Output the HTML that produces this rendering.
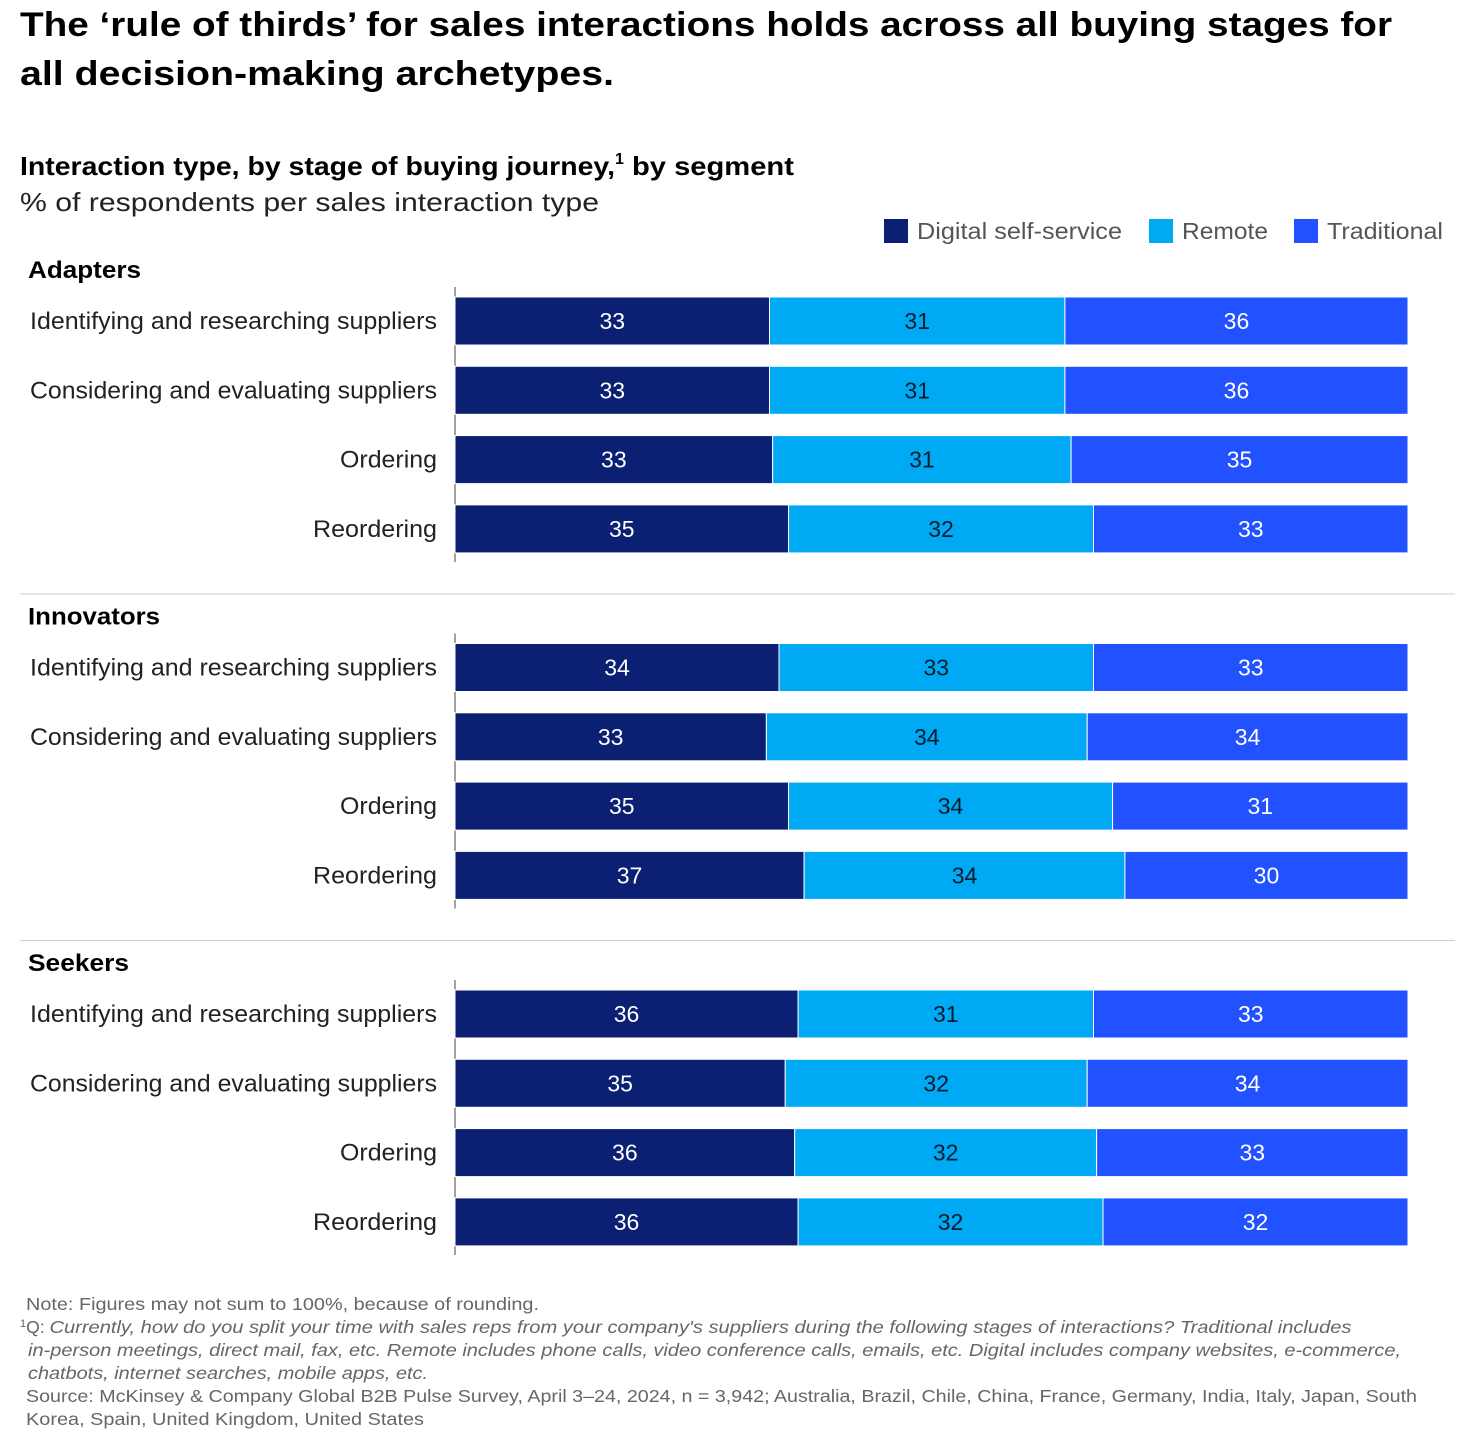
<!DOCTYPE html>
<html><head><meta charset="utf-8"><style>
body{margin:0;background:#fff;width:1464px;height:1438px;overflow:hidden;font-family:"Liberation Sans",sans-serif;}
</style></head><body>
<svg id="chart" width="1464" height="1438" xmlns="http://www.w3.org/2000/svg" font-family="Liberation Sans, sans-serif">
<text x="20" y="36" font-size="34" font-weight="bold" fill="#000" textLength="1372" lengthAdjust="spacingAndGlyphs">The ‘rule of thirds’ for sales interactions holds across all buying stages for</text>
<text x="20" y="85" font-size="34" font-weight="bold" fill="#000" textLength="594" lengthAdjust="spacingAndGlyphs">all decision-making archetypes.</text>
<text x="20" y="175" font-size="26" font-weight="bold" fill="#000"><tspan textLength="595" lengthAdjust="spacingAndGlyphs">Interaction type, by stage of buying journey,</tspan><tspan font-size="16" dy="-11">1</tspan><tspan dy="11" textLength="170" lengthAdjust="spacingAndGlyphs"> by segment</tspan></text>
<text x="20" y="211" font-size="26" fill="#222" textLength="579" lengthAdjust="spacingAndGlyphs">% of respondents per sales interaction type</text>
<g>
<rect x="884" y="219" width="24" height="24" fill="#0b1f73"/>
<text x="917" y="239" font-size="23" fill="#555" textLength="205" lengthAdjust="spacingAndGlyphs">Digital self-service</text>
<rect x="1149" y="219" width="24" height="24" fill="#00a9f4"/>
<text x="1182" y="239" font-size="23" fill="#555" textLength="86" lengthAdjust="spacingAndGlyphs">Remote</text>
<rect x="1294" y="219" width="24" height="24" fill="#2251ff"/>
<text x="1327" y="239" font-size="23" fill="#555" textLength="116" lengthAdjust="spacingAndGlyphs">Traditional</text>
</g>
<g id="bars"></g>
<g font-size="17.5" fill="#666">
<text x="26" y="1310" textLength="513" lengthAdjust="spacingAndGlyphs">Note: Figures may not sum to 100%, because of rounding.</text>
<text x="20" y="1333"><tspan font-size="11" dy="-6">1</tspan><tspan dy="6">Q: </tspan><tspan font-style="italic" textLength="1302" lengthAdjust="spacingAndGlyphs">Currently, how do you split your time with sales reps from your company's suppliers during the following stages of interactions? Traditional includes</tspan></text>
<text x="28" y="1356" font-style="italic" textLength="1373" lengthAdjust="spacingAndGlyphs">in-person meetings, direct mail, fax, etc. Remote includes phone calls, video conference calls, emails, etc. Digital includes company websites, e-commerce,</text>
<text x="28" y="1379" font-style="italic" textLength="400" lengthAdjust="spacingAndGlyphs">chatbots, internet searches, mobile apps, etc.</text>
<text x="26" y="1402" textLength="1391" lengthAdjust="spacingAndGlyphs">Source: McKinsey &amp; Company Global B2B Pulse Survey, April 3–24, 2024, n = 3,942; Australia, Brazil, Chile, China, France, Germany, India, Italy, Japan, South</text>
<text x="26" y="1425" textLength="398" lengthAdjust="spacingAndGlyphs">Korea, Spain, United Kingdom, United States</text>
</g>
</svg>
<script>
const segments = ["Adapters","Innovators","Seekers"];
const stages = ["Identifying and researching suppliers","Considering and evaluating suppliers","Ordering","Reordering"];
const digital = [[33,33,33,35],[34,33,35,37],[36,35,36,36]];
const remote = [[31,31,31,32],[33,34,34,34],[31,32,32,32]];
const traditional = [[36,36,35,33],[33,34,31,30],[33,34,33,32]];

const NS="http://www.w3.org/2000/svg";
const g=document.getElementById('bars');
const X0=455, W=953, BH=48;
const xScale=(v,sum)=>v/sum*W;
function mk(tag,attrs,parent){const e=document.createElementNS(NS,tag);for(const k in attrs)e.setAttribute(k,attrs[k]);parent.appendChild(e);return e;}
const colors=["#0b1f73","#00a9f4","#2251ff"];
const txtColors=["#fff","#051c2c","#fff"];
const names=["digital","remote","traditional"];
const segLen={Adapters:113,Innovators:132,Seekers:101};
const stageLen={"Identifying and researching suppliers":407,"Considering and evaluating suppliers":407,"Ordering":97,"Reordering":124};
segments.forEach((seg,si)=>{
  const top=269+si*346.5;
  if(si>0){
    const sep=mk('line',{x1:20,x2:1455,y1:top-21.5,y2:top-21.5,stroke:'#ccc','stroke-width':1},g);
    
    
  }
  const st=mk('text',{x:28,y:top+9,'font-size':24,'font-weight':'bold',fill:'#000',textLength:segLen[seg],lengthAdjust:'spacingAndGlyphs'},g);
  st.textContent=seg;
  
  
  const ax=mk('line',{x1:X0,x2:X0,y1:top+18,y2:top+293,stroke:'#444','stroke-width':1},g);
  
  
  stages.forEach((stg,ri)=>{
    const cy=top+52+ri*69.3;
    const lab=mk('text',{x:437,y:cy+8,'font-size':24,fill:'#222','text-anchor':'end',textLength:stageLen[stg],lengthAdjust:'spacingAndGlyphs'},g);
    lab.textContent=stg;
    
    
    const vals=[digital[si][ri],remote[si][ri],traditional[si][ri]];
    const sum=vals[0]+vals[1]+vals[2];
    let x=X0;
    vals.forEach((v,k)=>{
      const w=xScale(v,sum);
      const r=mk('rect',{x:x,y:cy-BH/2,width:w,height:BH,fill:colors[k],stroke:'#fff','stroke-width':1},g);
      
      
      const t=mk('text',{x:x+w/2,y:cy+8,'font-size':23,fill:txtColors[k],'text-anchor':'middle'},g);
      t.textContent=v;
      
      
      x+=w;
    });
  });
});
</script>
</body></html>
